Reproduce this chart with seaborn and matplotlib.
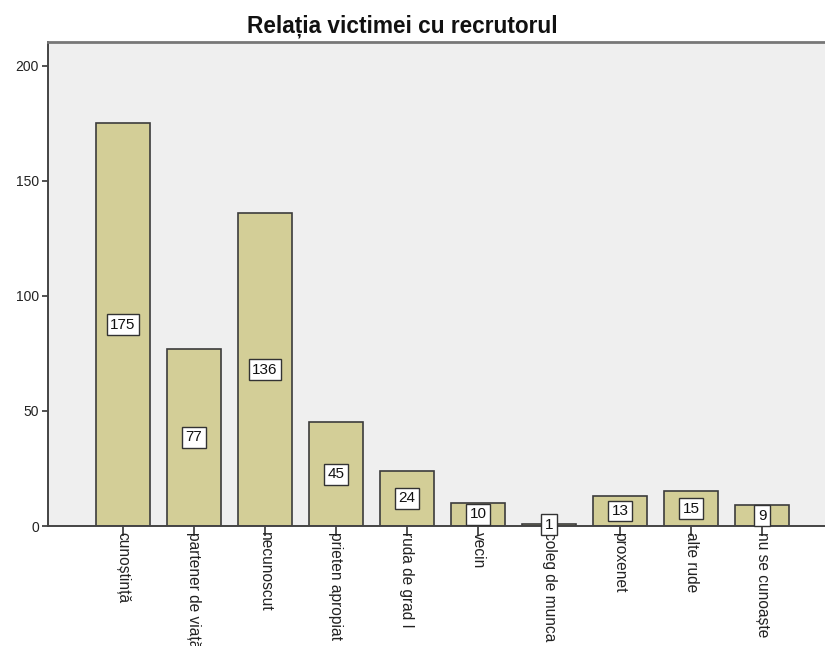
import matplotlib
matplotlib.use("Agg")
import matplotlib.pyplot as plt
import seaborn as sns
import pandas as pd

categories = [
    "cunoștință", "partener de viață", "necunoscut", "prieten apropiat",
    "ruda de grad I", "vecin", "coleg de munca", "proxenet",
    "alte rude", "nu se cunoaște",
]
counts = [175, 77, 136, 45, 24, 10, 1, 13, 15, 9]
y_ticks = [0, 50, 100, 150, 200]
title = "Relația victimei cu recrutorul"

sns.set_theme(style="white")
plt.rcParams["font.family"] = ["Liberation Sans", "DejaVu Sans"]

df = pd.DataFrame({"relatie": categories, "numar": counts})

W, H = 825, 646
fig = plt.figure(figsize=(W / 100, H / 100), dpi=100)
fig.patch.set_facecolor("white")
left, top, bottom, right = 48, 42, 526, 837
ax = fig.add_axes([left / W, (H - bottom) / H, (right - left) / W, (bottom - top) / H])
ax.set_facecolor("#EFEFEF")

sns.barplot(data=df, x="relatie", y="numar", order=categories, color="#D3CE97",
            saturation=1, width=0.76, edgecolor="#3C3C3C", linewidth=1.2, ax=ax)

for cont in ax.containers:
    ax.bar_label(cont, labels=[str(v) for v in counts], label_type="center",
                 fontsize=11, color="#111111",
                 bbox=dict(boxstyle="square,pad=0.22", facecolor="white",
                           edgecolor="#333333", linewidth=1.0))

ax.set_xlim(-1.056, 10.056)
ax.set_ylim(0, 210.4)
ax.set_yticks(y_ticks)
ax.set_yticklabels([str(t) for t in y_ticks], fontsize=10, color="#222222")
ax.set_xlabel("")
ax.set_ylabel("")
ax.set_xticks(range(len(categories)))
ax.set_xticklabels(categories, rotation=270, fontsize=11.2, color="#222222",
                   va="top", ha="center")
ax.tick_params(axis="y", direction="out", length=4.5, width=1.2, color="#333333",
               left=True, pad=2)
ax.tick_params(axis="x", direction="out", length=7.5, width=1.2, color="#333333",
               bottom=True, pad=-3.5)

for side in ["left", "bottom"]:
    ax.spines[side].set_color("#444444")
    ax.spines[side].set_linewidth(1.4)
ax.spines["top"].set_color("#777777")
ax.spines["top"].set_linewidth(2.0)
ax.spines["right"].set_visible(False)

fig.text(402 / W, 1 - 26 / H, title, ha="center", va="center",
         fontsize=16.3, fontweight="bold", color="#111111")

fig.savefig("out.png", dpi=100)
